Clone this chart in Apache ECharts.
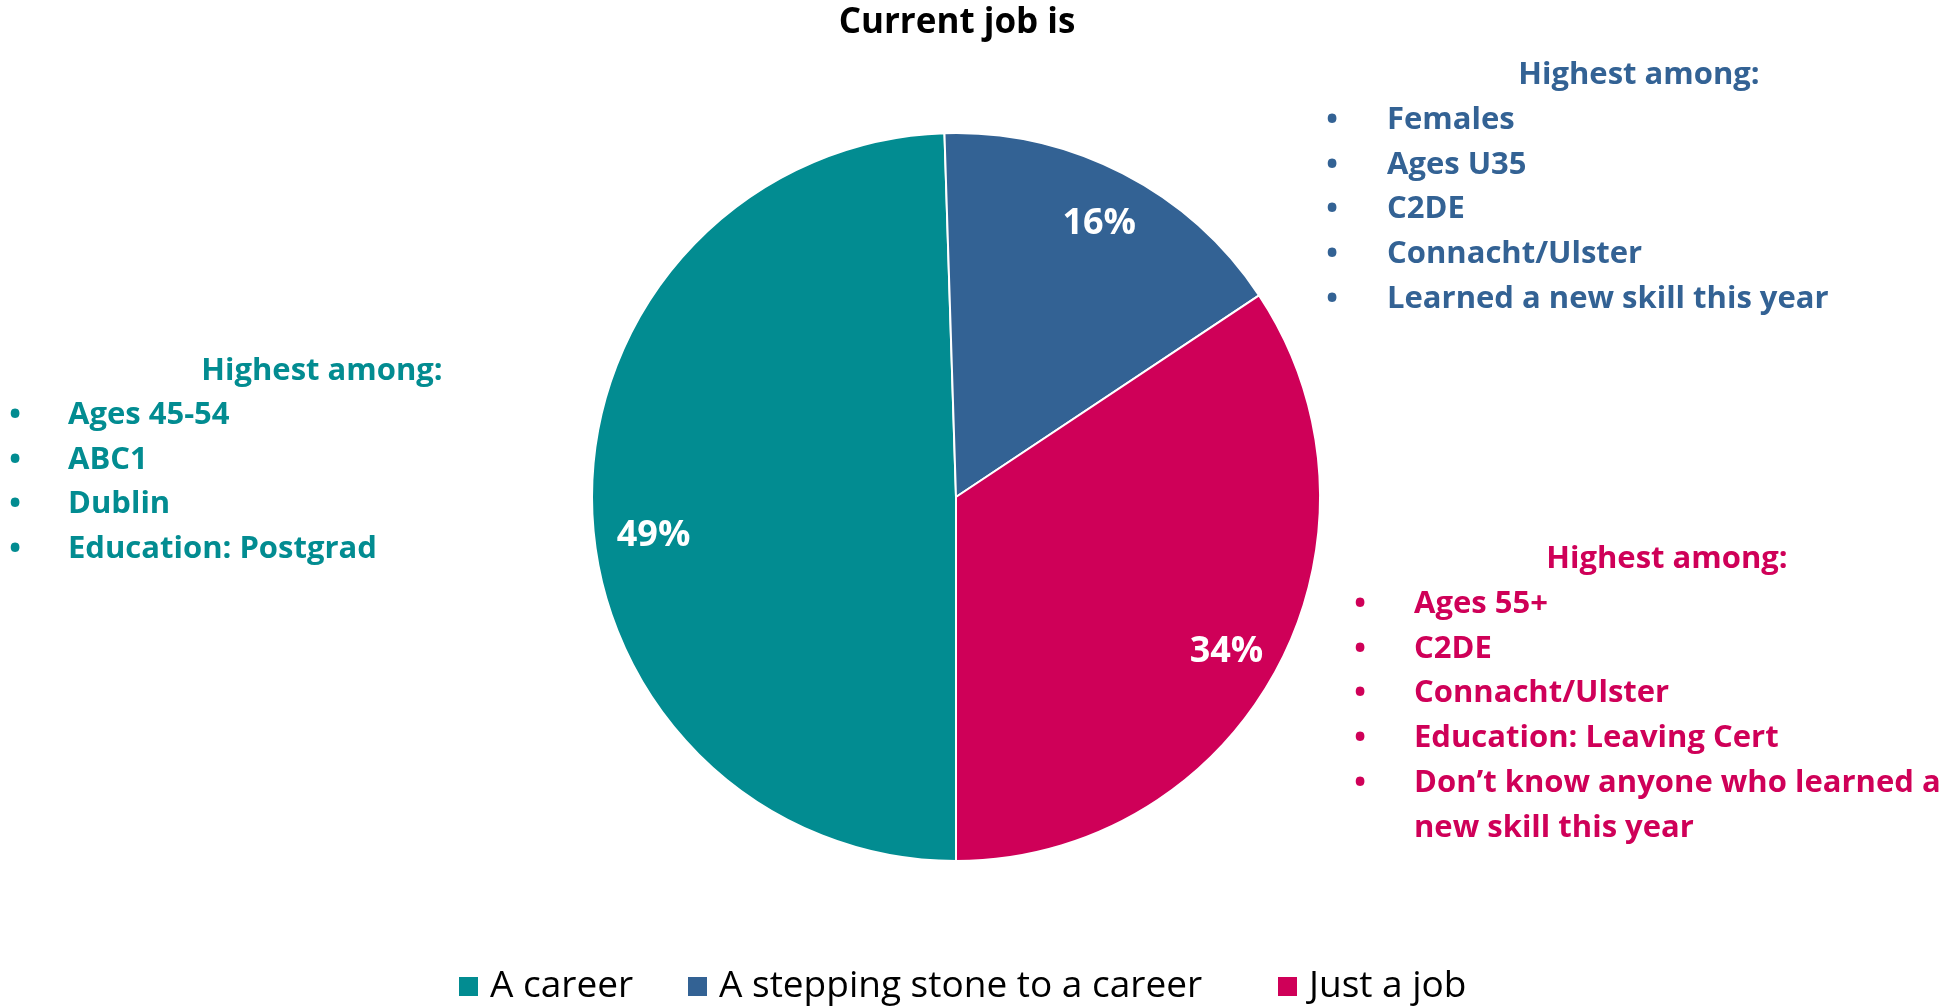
<!DOCTYPE html>
<html>
<head>
<meta charset="utf-8">
<script src="https://cdn.jsdelivr.net/npm/echarts@6/dist/echarts.min.js"></script>
<style>
    html, body { margin: 0; padding: 0; background: #fff; }
    #main { width: 1959px; height: 1007px; }
</style>
</head>
<body>
<div id="main"></div>
<script>
    // data
    const categories = ['A career', 'A stepping stone to a career', 'Just a job']
    const shares = [49, 16, 34]
    const colors = ['#028C91', '#336294', '#CF0058']
    const noteTitle = 'Highest among:'
    const careerNotes = ['Ages 45-54', 'ABC1', 'Dublin', 'Education: Postgrad']
    const steppingNotes = ['Females', 'Ages U35', 'C2DE', 'Connacht/Ulster', 'Learned a new skill this year']
    const jobNotes = ['Ages 55+', 'C2DE', 'Connacht/Ulster', 'Education: Leaving Cert', 'Don\u2019t know anyone who learned a', 'new skill this year']
    const jobBullets = [true, true, true, true, true, false]

    const FONT = '"Open Sans"'
    const NOTE_SIZE = 31
    const STEP = 44.8

    function noteBlock(list, bullets, color, headX, headY, bulletX, textX, firstY){
        let els = []
        let base = { fill: color, fontFamily: FONT, fontWeight: 'bold', fontSize: NOTE_SIZE, textVerticalAlign: 'middle' }
        els.push({ type: 'text', style: Object.assign({}, base, { text: noteTitle, x: headX, y: headY, textAlign: 'center' }) })
        list.map((t, i) => {
            let y = firstY + i * STEP
            if (!bullets || bullets[i]) {
                els.push({ type: 'text', style: Object.assign({}, base, { text: '\u2022', x: bulletX, y: y, textAlign: 'center' }) })
            }
            els.push({ type: 'text', style: Object.assign({}, base, { text: t, x: textX, y: y, textAlign: 'left' }) })
        })
        return els
    }

    let pieData = categories.map((name, i) => ({ name, value: shares[i], itemStyle: { color: colors[i] } }))

    let graphics = [].concat(
        [{
            type: 'text',
            style: { text: 'Current job is', x: 957, y: 23, textAlign: 'center', textVerticalAlign: 'middle',
                fill: '#000', fontFamily: FONT, fontWeight: 'bold', fontSize: 35 }
        }],
        noteBlock(careerNotes, null, colors[0], 322, 371, 15, 68, 415),
        noteBlock(steppingNotes, null, colors[1], 1639, 75, 1332, 1387, 120),
        noteBlock(jobNotes, jobBullets, colors[2], 1667, 559, 1360, 1414, 604)
    )

    // small nudges so the percentages sit where the original put them
    const labelShift = [{ dx: 10, dy: 34 }, { dx: 0, dy: 5 }, { dx: -5, dy: 7 }]
    // the original legend spaces its items unevenly, so one legend per item
    const legendLeft = [452, 681, 1271]

    let legends = categories.map((name, i) => ({
        data: [name],
        left: legendLeft[i],
        top: 963,
        icon: 'rect',
        itemWidth: 21,
        itemHeight: 21,
        textStyle: { fontFamily: FONT, fontSize: 37, color: '#000', padding: [0, 0, 0, 6] }
    }))

    let myChart = echarts.init(document.getElementById('main'))
    let option = {
        animation: false,
        legend: legends,
        series: [
            {
                name: 'Current job is',
                type: 'pie',
                center: [956, 497],
                radius: [0, 364],
                startAngle: -90,
                clockwise: true,
                label: { show: false },
                labelLine: { show: false },
                itemStyle: { borderColor: '#fff', borderWidth: 2 },
                emphasis: { disabled: true },
                data: pieData
            },
            {
                // label ring only, puts the percentages out near the rim
                name: 'labels',
                type: 'pie',
                center: [956, 497],
                radius: [255, 364],
                startAngle: -90,
                clockwise: true,
                silent: true,
                itemStyle: { color: 'rgba(0,0,0,0)', borderWidth: 0 },
                label: {
                    show: true,
                    position: 'inside',
                    formatter: '{c}%',
                    fontFamily: FONT,
                    fontWeight: 'bold',
                    fontSize: 36,
                    color: '#fff'
                },
                labelLayout: function (params) {
                    return labelShift[params.dataIndex]
                },
                labelLine: { show: false },
                emphasis: { disabled: true },
                data: categories.map((name, i) => ({ name, value: shares[i] }))
            }
        ],
        graphic: graphics
    }
    myChart.setOption(option)
</script>
</body>
</html>
